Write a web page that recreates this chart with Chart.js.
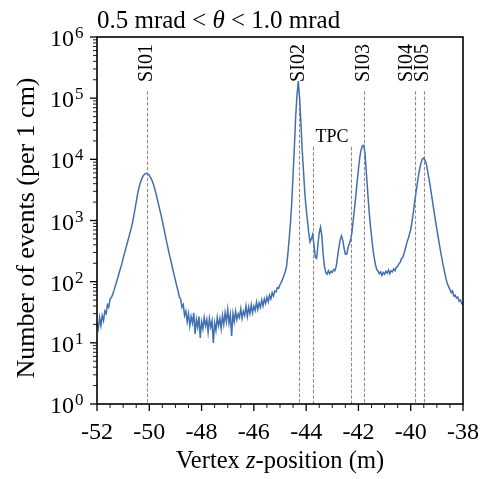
<!DOCTYPE html>
<html>
<head>
<meta charset="utf-8">
<script src="https://cdn.jsdelivr.net/npm/chart.js@4.4.0/dist/chart.umd.min.js"></script>
<style>
  html, body { margin: 0; padding: 0; background: #fff; }
</style>
</head>
<body>
<canvas id="zChart" width="481" height="479"></canvas>
<script>
// vertex z bins (m), 5 cm apart
const zValues = [
  -52.00, -51.95, -51.90, -51.85, -51.80, -51.75, -51.70, -51.65, -51.60, -51.55,
  -51.50, -51.45, -51.40, -51.35, -51.30, -51.25, -51.20, -51.15, -51.10, -51.05,
  -51.00, -50.95, -50.90, -50.85, -50.80, -50.75, -50.70, -50.65, -50.60, -50.55,
  -50.50, -50.45, -50.40, -50.35, -50.30, -50.25, -50.20, -50.15, -50.10, -50.05,
  -50.00, -49.95, -49.90, -49.85, -49.80, -49.75, -49.70, -49.65, -49.60, -49.55,
  -49.50, -49.45, -49.40, -49.35, -49.30, -49.25, -49.20, -49.15, -49.10, -49.05,
  -49.00, -48.95, -48.90, -48.85, -48.80, -48.75, -48.70, -48.65, -48.60, -48.55,
  -48.50, -48.45, -48.40, -48.35, -48.30, -48.25, -48.20, -48.15, -48.10, -48.05,
  -48.00, -47.95, -47.90, -47.85, -47.80, -47.75, -47.70, -47.65, -47.60, -47.55,
  -47.50, -47.45, -47.40, -47.35, -47.30, -47.25, -47.20, -47.15, -47.10, -47.05,
  -47.00, -46.95, -46.90, -46.85, -46.80, -46.75, -46.70, -46.65, -46.60, -46.55,
  -46.50, -46.45, -46.40, -46.35, -46.30, -46.25, -46.20, -46.15, -46.10, -46.05,
  -46.00, -45.95, -45.90, -45.85, -45.80, -45.75, -45.70, -45.65, -45.60, -45.55,
  -45.50, -45.45, -45.40, -45.35, -45.30, -45.25, -45.20, -45.15, -45.10, -45.05,
  -45.00, -44.95, -44.90, -44.85, -44.80, -44.75, -44.70, -44.65, -44.60, -44.55,
  -44.50, -44.45, -44.40, -44.35, -44.30, -44.25, -44.20, -44.15, -44.10, -44.05,
  -44.00, -43.95, -43.90, -43.85, -43.80, -43.75, -43.70, -43.65, -43.60, -43.55,
  -43.50, -43.45, -43.40, -43.35, -43.30, -43.25, -43.20, -43.15, -43.10, -43.05,
  -43.00, -42.95, -42.90, -42.85, -42.80, -42.75, -42.70, -42.65, -42.60, -42.55,
  -42.50, -42.45, -42.40, -42.35, -42.30, -42.25, -42.20, -42.15, -42.10, -42.05,
  -42.00, -41.95, -41.90, -41.85, -41.80, -41.75, -41.70, -41.65, -41.60, -41.55,
  -41.50, -41.45, -41.40, -41.35, -41.30, -41.25, -41.20, -41.15, -41.10, -41.05,
  -41.00, -40.95, -40.90, -40.85, -40.80, -40.75, -40.70, -40.65, -40.60, -40.55,
  -40.50, -40.45, -40.40, -40.35, -40.30, -40.25, -40.20, -40.15, -40.10, -40.05,
  -40.00, -39.95, -39.90, -39.85, -39.80, -39.75, -39.70, -39.65, -39.60, -39.55,
  -39.50, -39.45, -39.40, -39.35, -39.30, -39.25, -39.20, -39.15, -39.10, -39.05,
  -39.00, -38.95, -38.90, -38.85, -38.80, -38.75, -38.70, -38.65, -38.60, -38.55,
  -38.50, -38.45, -38.40, -38.35, -38.30, -38.25, -38.20, -38.15, -38.10, -38.05,
  -38.00
];

// number of events per bin
const eventCounts = [
  21, 17, 26, 19, 28, 23, 33, 30, 42, 38,
  52, 55, 62, 72, 85, 100, 117, 141, 166, 195,
  240, 288, 347, 417, 501, 603, 724, 891, 1150, 1510,
  2000, 2690, 3390, 4070, 4680, 5250, 5620, 5890, 5890, 5750,
  5500, 5010, 4570, 3980, 3390, 2820, 2290, 1860, 1510, 1230,
  977, 776, 603, 479, 380, 302, 245, 200, 158, 129,
  105, 85, 71, 56, 52, 38, 42, 28, 33, 22,
  30, 19, 27, 21, 31, 14, 24, 18, 27, 12,
  22, 17, 26, 19, 24, 15, 25, 18, 23, 10,
  21, 16, 26, 19, 25, 17, 28, 20, 31, 22,
  35, 21, 29, 13, 30, 22, 33, 24, 30, 26,
  36, 25, 33, 28, 40, 27, 38, 30, 42, 31,
  40, 34, 46, 35, 45, 38, 50, 40, 52, 44,
  56, 47, 60, 52, 66, 58, 70, 68, 80, 78,
  89, 98, 110, 126, 145, 178, 282, 501, 891, 2000,
  5620, 15800, 50100, 112000, 190000, 100000, 39800, 14100, 6310, 2820,
  1580, 1000, 631, 447, 501, 589, 398, 251, 240, 398,
  631, 776, 562, 282, 178, 141, 132, 151, 135, 148,
  141, 158, 151, 178, 251, 355, 479, 562, 479, 355,
  282, 282, 355, 417, 479, 631, 1000, 1580, 2510, 4270,
  6760, 10700, 14100, 16600, 17000, 12600, 6310, 3160, 1580, 891,
  562, 355, 251, 191, 158, 148, 135, 145, 126, 141,
  132, 148, 138, 155, 135, 151, 145, 162, 151, 172,
  178, 195, 209, 240, 251, 295, 355, 427, 501, 589,
  708, 955, 1350, 2000, 2820, 3980, 5500, 7240, 8910, 10200,
  10500, 9550, 8320, 6310, 4790, 3550, 2570, 1860, 1350, 977,
  724, 537, 398, 302, 229, 178, 141, 112, 93, 83,
  74, 66, 71, 58, 60, 54, 56, 48, 50, 44,
  42
];

const yDecades = [0, 1, 2, 3, 4, 5, 6];

// detector planes
const siNames = ['SI01', 'SI02', 'SI03', 'SI04', 'SI05'];
const siZ = [-50.10, -44.27, -41.80, -39.83, -39.48];
const siLabelZ = [-50.10, -44.32, -41.82, -40.18, -39.55];
const siLineTop = 1.3e5;
const tpcZ = [-43.72, -42.30];
const tpcLineTop = 1.6e4;

const serif = '"Liberation Serif", "DejaVu Serif", serif';

function drawPieces(ctx, pieces, x, y, align) {
  let total = 0;
  pieces.forEach(p => { ctx.font = p[1] + ' ' + p[2]; total += ctx.measureText(p[0]).width; });
  let cx = align === 'center' ? x - total / 2 : x;
  ctx.textAlign = 'left';
  pieces.forEach(p => {
    ctx.font = p[1] + ' ' + p[2];
    ctx.fillText(p[0], cx, y);
    cx += ctx.measureText(p[0]).width;
  });
}

const decor = {
  id: 'decor',
  beforeDatasetsDraw(chart) {
    const { ctx, chartArea: a, scales: { x, y } } = chart;
    ctx.save();
    ctx.strokeStyle = '#8f8f8f';
    ctx.lineWidth = 1.1;
    ctx.setLineDash([3.6, 1.8]);
    const vline = (z, top) => {
      const px = Math.round(x.getPixelForValue(z)) + 0.5;
      ctx.beginPath();
      ctx.moveTo(px, y.getPixelForValue(top));
      ctx.lineTo(px, a.bottom);
      ctx.stroke();
    };
    siZ.forEach(z => vline(z, siLineTop));
    tpcZ.forEach(z => vline(z, tpcLineTop));
    ctx.restore();
  },
  afterDraw(chart) {
    const { ctx, chartArea: a, scales: { x, y } } = chart;
    ctx.save();
    ctx.strokeStyle = '#000';
    ctx.fillStyle = '#000';

    // frame
    ctx.lineWidth = 1.6;
    ctx.strokeRect(a.left, a.top, a.right - a.left, a.bottom - a.top);

    // x ticks, major every 2 m, minor every 0.5 m
    for (let i = 0; i <= 28; i++) {
      const v = -52 + i * 0.5;
      const major = i % 4 === 0;
      const px = x.getPixelForValue(v);
      ctx.lineWidth = major ? 1.3 : 0.9;
      ctx.beginPath();
      ctx.moveTo(px, a.bottom);
      ctx.lineTo(px, a.bottom + (major ? 7 : 4));
      ctx.stroke();
    }

    // y ticks and 10^k labels
    yDecades.forEach(k => {
      const py = y.getPixelForValue(Math.pow(10, k));
      ctx.lineWidth = 1.3;
      ctx.beginPath(); ctx.moveTo(a.left, py); ctx.lineTo(a.left - 7, py); ctx.stroke();
      if (k < 6) {
        ctx.lineWidth = 0.9;
        for (let m = 2; m <= 9; m++) {
          const pm = y.getPixelForValue(m * Math.pow(10, k));
          ctx.beginPath(); ctx.moveTo(a.left, pm); ctx.lineTo(a.left - 4, pm); ctx.stroke();
        }
      }
      ctx.textBaseline = 'alphabetic';
      ctx.textAlign = 'right';
      ctx.font = '24px ' + serif;
      ctx.fillText('10', a.left - 23, py + 9);
      ctx.textAlign = 'left';
      ctx.font = '17px ' + serif;
      ctx.fillText(String(k), a.left - 22, py + 1);
    });

    // detector labels
    ctx.font = '20px ' + serif;
    ctx.textAlign = 'center';
    ctx.textBaseline = 'middle';
    siNames.forEach((n, i) => {
      const lx = x.getPixelForValue(siLabelZ[i]) + 0.5;
      ctx.save();
      ctx.translate(lx, a.top + 26);
      ctx.rotate(-Math.PI / 2);
      ctx.fillText(n, 0, 0);
      ctx.restore();
    });
    ctx.font = '18px ' + serif;
    const tx = (x.getPixelForValue(tpcZ[0]) + x.getPixelForValue(tpcZ[1])) / 2;
    ctx.fillText('TPC', tx, y.getPixelForValue(tpcLineTop) - 10);

    // title
    ctx.textBaseline = 'alphabetic';
    drawPieces(ctx, [
      ['0.5 mrad < ', '', '25px ' + serif],
      ['θ', 'italic', '25px ' + serif],
      [' < 1.0 mrad', '', '25px ' + serif]
    ], a.left, 28, 'left');

    // x title
    drawPieces(ctx, [
      ['Vertex ', '', '24.5px ' + serif],
      ['z', 'italic', '24.5px ' + serif],
      ['-position (m)', '', '24.5px ' + serif]
    ], (a.left + a.right) / 2, 468, 'center');

    // y title
    ctx.save();
    ctx.translate(27, 228);
    ctx.rotate(-Math.PI / 2);
    ctx.font = '26px ' + serif;
    ctx.textAlign = 'center';
    ctx.textBaseline = 'middle';
    ctx.fillText('Number of events (per 1 cm)', 0, 0);
    ctx.restore();

    ctx.restore();
  }
};

const ctx = document.getElementById('zChart').getContext('2d');

new Chart(ctx, {
  type: 'line',
  data: {
    datasets: [{
      data: zValues.map((z, i) => ({ x: z, y: eventCounts[i] })),
      borderColor: '#4070b0',
      borderWidth: 1.5,
      pointRadius: 0,
      tension: 0,
      fill: false
    }]
  },
  options: {
    responsive: false,
    animation: false,
    devicePixelRatio: 1,
    layout: { padding: { left: 0, right: 18, top: 37, bottom: 0 } },
    plugins: {
      legend: { display: false },
      tooltip: { enabled: false },
      title: { display: false }
    },
    scales: {
      x: {
        type: 'linear',
        min: -52,
        max: -38,
        grid: { display: false },
        border: { display: false },
        ticks: {
          stepSize: 2,
          autoSkip: false,
          maxRotation: 0,
          padding: 6,
          color: '#000',
          font: { family: serif, size: 24 },
          callback: v => String(v)
        },
        afterFit: s => { s.height = 75; s.paddingLeft = 0; s.paddingRight = 0; }
      },
      y: {
        type: 'logarithmic',
        min: 1,
        max: 1e6,
        grid: { display: false },
        border: { display: false },
        ticks: { display: false },
        afterFit: s => { s.width = 97; }
      }
    }
  },
  plugins: [decor]
});
</script>
</body>
</html>
